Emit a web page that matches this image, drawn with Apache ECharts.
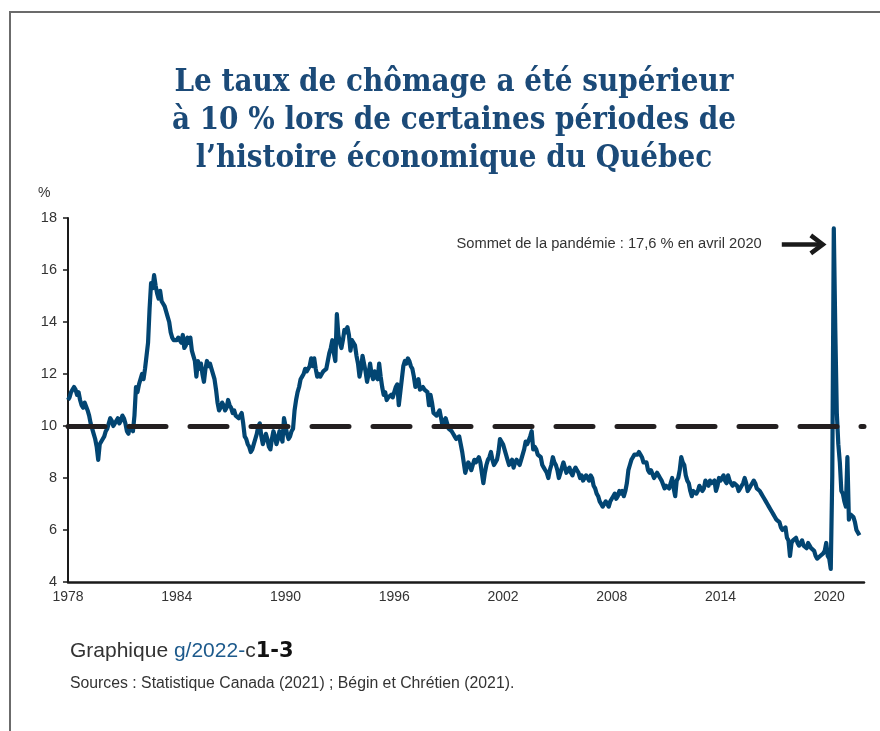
<!DOCTYPE html>
<html>
<head>
<meta charset="utf-8">
<script src="https://cdn.jsdelivr.net/npm/echarts@6/dist/echarts.min.js"></script>
<style>
html, body { margin: 0; padding: 0; background: #fff; }
#main { width: 880px; height: 731px; }
</style>
</head>
<body>
<div id="main"></div>
<script>
// taux de chômage mensuel, Québec (%)
var firstYear = 1978;
var lastYear = 2021;
var tickYears = [1978, 1984, 1990, 1996, 2002, 2008, 2014, 2020];
var peakMonth = '2020-04';
var peakValue = 17.6;
var thresholdValue = 10;

var rates1978to1989 = [
    11.0, 11.1, 11.3, 11.4, 11.5, 11.4, 11.2, 11.3, 11.0, 10.8, 10.7, 10.9,
    10.9, 10.6, 10.4, 10.1, 9.9, 9.7, 9.5, 9.2, 8.7, 9.3, 9.3, 9.5,
    9.6, 9.8, 9.9, 10.1, 10.3, 10.2, 10.0, 10.1, 10.2, 10.3, 10.1, 10.2,
    10.4, 10.3, 10.1, 9.8, 9.7, 10.0, 9.9, 9.8, 10.4, 11.5, 11.3, 11.6,
    11.6, 12.0, 11.8, 12.2, 12.7, 13.2, 14.5, 15.5, 15.3, 15.8, 15.4, 15.1,
    14.9, 15.2, 14.8, 14.7, 14.6, 14.4, 14.2, 14.0, 13.6, 13.4, 13.3, 13.3,
    13.3, 13.4, 13.3, 13.2, 13.5, 13.0, 13.1, 13.4, 13.2, 13.4, 12.9, 12.7,
    12.5, 11.9, 12.5, 12.2, 12.4, 12.0, 11.7, 12.2, 12.5, 12.3, 12.4, 12.2,
    12.2, 11.8, 11.4, 10.9, 10.6, 10.7, 10.9, 10.8, 10.6, 10.7, 11.0, 10.8,
    10.7, 10.5, 10.6, 10.4, 10.4, 10.3, 10.4, 10.5, 10.1, 9.6, 9.5, 9.3,
    9.2, 9.0, 9.1, 9.3, 9.5, 9.7, 10.0, 10.1, 9.6, 9.3, 9.5, 9.7,
    9.5, 9.2, 9.1, 9.5, 9.8, 9.6, 9.3, 9.5, 9.8, 9.6, 9.4, 10.3
];
var rates1990to1999 = [
    10.0, 9.7, 9.5, 9.6, 9.8, 9.9, 10.6, 11.0, 11.3, 11.5, 11.8, 11.9,
    12.0, 12.2, 12.1, 12.1, 12.3, 12.6, 12.3, 12.6, 12.2, 11.9, 12.0, 11.9,
    12.0, 12.1, 12.1, 12.2, 12.5, 12.8, 13.0, 13.3, 12.8, 12.5, 14.3, 13.5,
    13.2, 13.0, 13.3, 13.7, 13.6, 13.8, 13.5, 12.9, 13.3, 13.2, 13.1, 12.7,
    12.4, 11.9, 12.2, 12.7, 12.4, 12.1, 11.7, 12.0, 12.4, 12.0, 11.8, 12.1,
    11.9, 11.8, 12.4, 11.9, 11.5, 11.2, 11.3, 11.0, 11.1, 11.1, 11.2, 11.1,
    11.3, 11.5, 11.6, 10.8, 11.3, 11.8, 12.3, 12.5, 12.4, 12.6, 12.5, 12.3,
    12.2, 11.9, 11.5, 11.6, 11.8, 11.4, 11.4, 11.5, 11.4, 11.4, 11.3, 10.8,
    11.2, 10.9, 10.5, 10.5, 10.4, 10.4, 10.6, 10.3, 10.0, 10.2, 10.3, 10.1,
    9.9, 9.9, 9.8, 9.7, 9.6, 9.5, 9.5, 9.6, 9.3, 9.0, 8.6, 8.2
];
var rates2000to2009 = [
    8.4, 8.6, 8.5, 8.3, 8.5, 8.7, 8.6, 8.6, 8.8, 8.6, 8.6, 7.8,
    8.2, 8.5, 8.7, 8.8, 9.0, 8.7, 8.5, 8.6, 8.7, 9.0, 9.5, 9.5,
    9.3, 9.1, 8.9, 8.7, 8.5, 8.6, 8.7, 8.4, 8.6, 8.7, 8.6, 8.5,
    8.7, 8.9, 9.1, 9.4, 9.3, 9.3, 9.6, 9.8, 9.1, 9.2, 9.1, 8.9,
    8.9, 8.8, 8.5, 8.4, 8.3, 8.2, 8.0, 8.3, 8.5, 8.8, 8.6, 8.5,
    8.3, 8.0, 8.2, 8.4, 8.6, 8.4, 8.2, 8.3, 8.4, 8.2, 8.1, 8.3,
    8.4, 8.3, 8.2, 8.0, 8.1, 7.9, 8.0, 8.1, 8.0, 7.9, 8.1, 8.0,
    7.7, 7.6, 7.4, 7.3, 7.1, 7.0, 6.9, 7.0, 7.1, 7.0, 6.9, 7.1,
    7.2, 7.3, 7.4, 7.2, 7.3, 7.5, 7.4, 7.5, 7.3, 7.5, 7.8, 8.3,
    8.5, 8.7, 8.8, 8.9, 8.9, 8.9, 9.0, 8.9, 8.8, 8.6, 8.6, 8.6
];
var rates2010to2019 = [
    8.3, 8.2, 8.3, 8.3, 8.0, 8.1, 8.2, 8.1, 8.0, 7.9, 7.9, 7.6,
    7.7, 7.7, 7.6, 7.8, 8.0, 7.6, 7.3, 7.9, 8.0, 8.3, 8.8, 8.6,
    8.5, 8.1, 7.9, 7.8, 7.5, 7.3, 7.5, 7.5, 7.4, 7.5, 7.7, 7.6,
    7.5, 7.6, 7.9, 7.8, 7.7, 7.9, 7.8, 7.8, 7.9, 7.5, 7.7, 8.0,
    7.9, 7.9, 8.1, 7.9, 7.8, 8.1, 7.9, 7.8, 7.7, 7.8, 7.8, 7.7,
    7.5, 7.6, 7.7, 7.8, 8.0, 7.8, 7.5, 7.6, 7.7, 7.8, 7.9, 7.8,
    7.6, 7.6, 7.5, 7.4, 7.3, 7.2, 7.1, 7.0, 6.9, 6.8, 6.7, 6.6,
    6.5, 6.4, 6.4, 6.3, 6.1, 6.0, 6.0, 6.1, 5.7, 5.6, 5.0, 5.5,
    5.6, 5.6, 5.7, 5.5, 5.4, 5.5, 5.6, 5.4, 5.4, 5.3, 5.5, 5.4,
    5.3, 5.3, 5.2, 5.0, 4.9, 4.9, 5.0, 5.0, 5.1, 5.2, 5.5, 5.0
];
var rates2020to2021 = [
    4.9, 4.5, 8.1, 17.6, 13.7, 10.5, 9.3, 8.6, 7.5, 7.4, 7.1, 6.9,
    8.8, 6.4, 6.6, 6.6, 6.5, 6.3, 6.0, 5.9, 5.8
];

var months = [];
for (var y = firstYear; y <= lastYear; y++) {
    for (var m = 1; m <= 12; m++) {
        months.push(y + '-' + (m < 10 ? '0' + m : m));
    }
}
var rates = [].concat(rates1978to1989, rates1990to1999, rates2000to2009, rates2010to2019, rates2020to2021);

var ink = '#1a1a1a';
var textGrey = '#333333';
var navy = '#1b4a78';

var myChart = echarts.init(document.getElementById('main'));
myChart.setOption({
    animation: false,
    title: {
        text: 'Le taux de chômage a été supérieur\nà 10 % lors de certaines périodes de\nl’histoire économique du Québec',
        left: 449,
        top: 59,
        textAlign: 'center',
        textStyle: {
            fontFamily: 'DejaVu Serif Condensed',
            fontWeight: 'bold',
            fontSize: 31,
            lineHeight: 38,
            color: navy
        }
    },
    grid: {
        left: 68,
        right: 16,
        top: 218,
        bottom: 149
    },
    xAxis: {
        type: 'category',
        data: months,
        boundaryGap: false,
        axisLine: { lineStyle: { color: ink, width: 2.5 } },
        axisTick: { show: false },
        axisLabel: {
            interval: function (index, value) {
                return value.slice(5) === '01' && tickYears.indexOf(+value.slice(0, 4)) >= 0;
            },
            formatter: function (value) {
                return value.slice(0, 4);
            },
            color: textGrey,
            fontFamily: 'Liberation Sans',
            fontSize: 14,
            margin: 8
        },
        splitLine: { show: false }
    },
    yAxis: {
        type: 'value',
        min: 4,
        max: 18,
        interval: 2,
        axisLine: { show: true, lineStyle: { color: ink, width: 2 } },
        axisTick: { show: true, length: 5, lineStyle: { color: ink, width: 1.5 } },
        axisLabel: {
            color: textGrey,
            fontFamily: 'Liberation Sans',
            fontSize: 14.5,
            margin: 11
        },
        splitLine: { show: false }
    },
    series: [
        {
            name: 'Taux de chômage',
            type: 'line',
            data: rates,
            z: 2,
            showSymbol: false,
            symbol: 'none',
            lineStyle: { color: '#024572', width: 4.2, join: 'round' }
        },
        {
            // ligne pointillée du seuil de 10 %, au-dessus de la courbe
            name: 'Seuil',
            type: 'line',
            data: [],
            z: 5,
            markLine: {
                silent: true,
                symbol: ['none', 'none'],
                label: { show: false },
                lineStyle: { color: '#231f20', width: 5, type: [37, 24], cap: 'round' },
                data: [{ yAxis: thresholdValue }]
            }
        }
    ]
});

// annotation et notes, placées à partir du sommet
var peak = myChart.convertToPixel({ seriesIndex: 0 }, [peakMonth, peakValue]);
var ay = peak[1] + 16;
var tipX = peak[0] - 11;
myChart.setOption({
    graphic: [
        {
            type: 'polyline',
            shape: { points: [[10, 731], [10, 12], [880, 12]] },
            style: { stroke: '#6b6b6b', lineWidth: 2, fill: null }
        },
        {
            type: 'text',
            left: 38,
            top: 186,
            style: { text: '%', font: '14px "Liberation Sans"', fill: textGrey }
        },
        {
            type: 'text',
            x: tipX - 61,
            y: ay,
            style: {
                text: 'Sommet de la pandémie : 17,6 % en avril 2020',
                font: '14.7px "Liberation Sans"',
                fill: textGrey,
                align: 'right',
                verticalAlign: 'middle'
            }
        },
        {
            type: 'line',
            shape: { x1: tipX - 41, y1: ay, x2: tipX - 3, y2: ay },
            style: { stroke: ink, lineWidth: 4.5 }
        },
        {
            type: 'polyline',
            shape: { points: [[tipX - 12, ay - 9], [tipX, ay], [tipX - 12, ay + 9]] },
            style: { stroke: ink, lineWidth: 4.5, fill: null, lineJoin: 'miter', lineCap: 'butt' }
        },
        {
            type: 'text',
            left: 70,
            top: 641,
            style: {
                text: '{a|Graphique }{b|g/2022-}{a|c}{c|1-3}',
                rich: {
                    a: { font: '21px "Liberation Sans"', fill: textGrey },
                    b: { font: '21px "Liberation Sans"', fill: '#1d5a8c' },
                    c: { font: '900 21px "DejaVu Sans"', fill: '#111' }
                }
            }
        },
        {
            type: 'text',
            left: 70,
            top: 676,
            style: {
                text: 'Sources : Statistique Canada (2021) ; Bégin et Chrétien (2021).',
                font: '15.8px "Liberation Sans"',
                fill: textGrey
            }
        }
    ]
});
</script>
</body>
</html>
